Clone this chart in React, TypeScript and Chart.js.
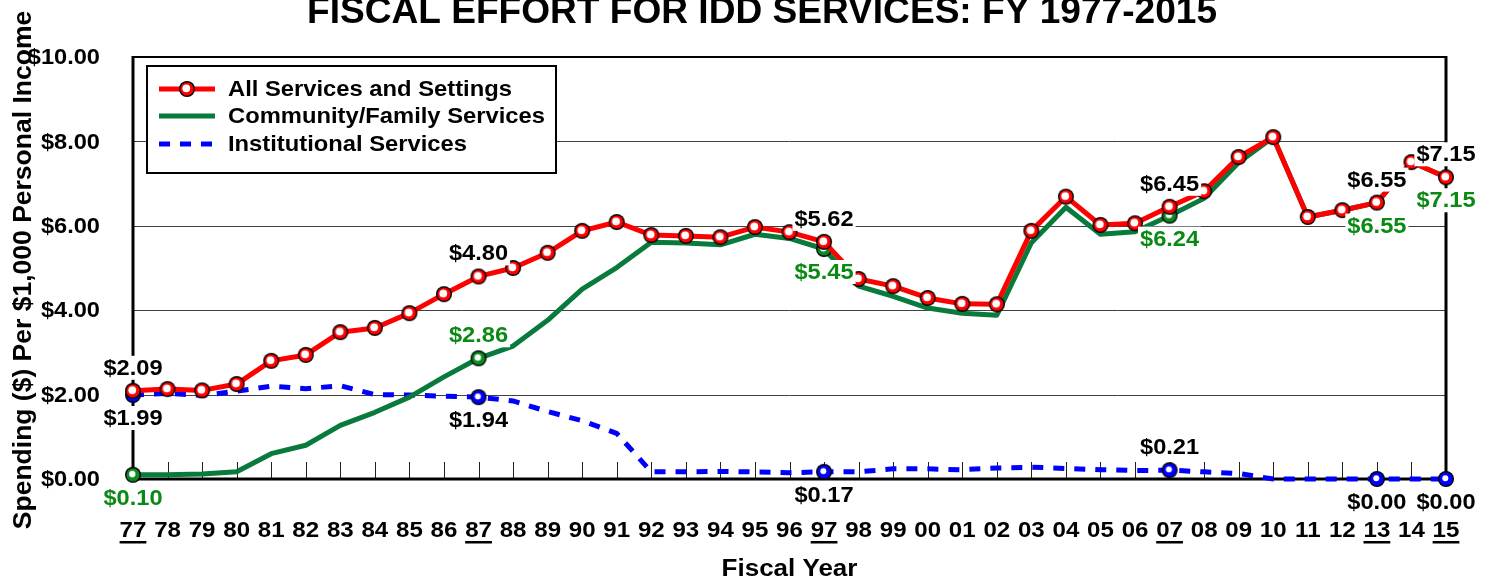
import React, { useEffect, useRef } from "react";
import { Chart, registerables } from "chart.js";

Chart.register(...registerables);

const years = [
  "77", "78", "79", "80", "81", "82", "83", "84", "85", "86",
  "87", "88", "89", "90", "91", "92", "93", "94", "95", "96",
  "97", "98", "99", "00", "01", "02", "03", "04", "05", "06",
  "07", "08", "09", "10", "11", "12", "13", "14", "15",
];

const allServices = [
  2.09, 2.13, 2.10, 2.25, 2.80, 2.94, 3.48, 3.58, 3.93, 4.38,
  4.80, 5.00, 5.36, 5.88, 6.09, 5.78, 5.76, 5.73, 5.97, 5.85,
  5.62, 4.74, 4.57, 4.29, 4.15, 4.14, 5.88, 6.69, 6.02, 6.06,
  6.45, 6.82, 7.63, 8.10, 6.21, 6.37, 6.55, 7.51, 7.15,
];

const community = [
  0.10, 0.10, 0.12, 0.17, 0.60, 0.80, 1.27, 1.58, 1.94, 2.42,
  2.86, 3.15, 3.76, 4.50, 5.01, 5.61, 5.59, 5.55, 5.80, 5.70,
  5.45, 4.57, 4.33, 4.05, 3.93, 3.88, 5.60, 6.44, 5.80, 5.86,
  6.24, 6.65, 7.50, 8.10, 6.21, 6.37, 6.55, 7.51, 7.15,
];

const institutional = [
  1.99, 2.03, 1.98, 2.08, 2.20, 2.14, 2.21, 2.00, 1.99, 1.96,
  1.94, 1.85, 1.60, 1.38, 1.08, 0.17, 0.17, 0.18, 0.17, 0.15,
  0.17, 0.17, 0.24, 0.24, 0.22, 0.26, 0.28, 0.25, 0.22, 0.20,
  0.21, 0.17, 0.13, 0.00, 0.00, 0.00, 0.00, 0.00, 0.00,
];

const yTickValues = [0, 2, 4, 6, 8, 10];
const underlinedYears = ["77", "87", "97", "07", "13", "15"];

const redLabelYears = ["77", "87", "97", "07", "13", "15"];
const greenLabelYears = ["77", "87", "97", "07", "13", "15"];
const blueLabelYears = ["77", "87", "97", "07", "13", "15"];
const greenMarkerYears = ["77", "87", "97", "07"];
const blueMarkerYears = ["77", "87", "97", "07", "13", "15"];

const TITLE = "FISCAL EFFORT FOR IDD SERVICES: FY 1977-2015";
const Y_TITLE = "Spending ($) Per $1,000 Personal Income";
const X_TITLE = "Fiscal Year";
const SERIES_NAMES = ["All Services and Settings", "Community/Family Services", "Institutional Services"];

const RED = "#ff0000";
const GREEN_LINE = "#087a3c";
const GREEN_TEXT = "#0a8a14";
const BLUE = "#0000ff";
const FONT = '"Liberation Sans", Arial, Helvetica, sans-serif';

function makePoint(fill: string, highlight: string, hr: number) {
  const c = document.createElement("canvas");
  c.width = 18;
  c.height = 18;
  const g = c.getContext("2d")!;
  g.beginPath();
  g.arc(9, 9, 8.0, 0, Math.PI * 2);
  g.fillStyle = "#000";
  g.fill();
  g.beginPath();
  g.arc(9, 9, 6.6, 0, Math.PI * 2);
  g.fillStyle = fill;
  g.fill();
  g.beginPath();
  g.arc(8.3, 8.3, hr, 0, Math.PI * 2);
  g.fillStyle = highlight;
  g.fill();
  return c;
}

export default function App() {
  const ref = useRef<HTMLCanvasElement | null>(null);

  useEffect(() => {
    document.body.style.margin = "0";
    const canvas = ref.current!;
    const redPt = makePoint(RED, "#ffffff", 3.9);
    const greenPt = makePoint("#0b8a22", "#ffffff", 3.2);
    const bluePt = makePoint(BLUE, "#ffffff", 3.0);

    const fmt = (v: number) => "$" + v.toFixed(2);

    const text = (
      ctx: CanvasRenderingContext2D,
      t: string,
      x: number,
      y: number,
      size: number,
      sx: number,
      align: CanvasTextAlign,
      color: string
    ) => {
      ctx.save();
      ctx.translate(x, y);
      ctx.scale(sx, 1);
      ctx.font = "bold " + size + "px " + FONT;
      ctx.textAlign = align;
      ctx.textBaseline = "middle";
      ctx.fillStyle = color;
      ctx.fillText(t, 0, 0);
      ctx.restore();
    };

    const decor = {
      id: "decor",
      beforeDatasetsDraw(chart: any) {
        const ctx = chart.ctx;
        const { left, right, top, bottom } = chart.chartArea;
        const ys = chart.scales.y;
        const xs = chart.scales.x;
        ctx.save();
        ctx.strokeStyle = "#404040";
        ctx.lineWidth = 1;
        yTickValues.forEach((v) => {
          if (v === 0 || v === 10) return;
          const py = Math.round(ys.getPixelForValue(v)) + 0.5;
          ctx.beginPath();
          ctx.moveTo(left, py);
          ctx.lineTo(right, py);
          ctx.stroke();
        });
        ctx.strokeStyle = "#222";
        years.forEach((_, i) => {
          const px = Math.round(xs.getPixelForValue(i)) + 0.5;
          ctx.beginPath();
          ctx.moveTo(px, bottom);
          ctx.lineTo(px, bottom - 17);
          ctx.stroke();
        });
        ctx.strokeStyle = "#000";
        ctx.lineWidth = 2;
        ctx.beginPath();
        ctx.moveTo(left, top);
        ctx.lineTo(right, top);
        ctx.stroke();
        ctx.lineWidth = 3;
        ctx.beginPath();
        ctx.moveTo(left, top - 1);
        ctx.lineTo(left, bottom);
        ctx.lineTo(right, bottom);
        ctx.moveTo(right, top - 1);
        ctx.lineTo(right, bottom);
        ctx.stroke();
        ctx.restore();
      },
      afterDatasetsDraw(chart: any) {
        const ctx = chart.ctx as CanvasRenderingContext2D;
        const { left, right } = chart.chartArea;
        const ys = chart.scales.y;
        const xs = chart.scales.x;
        ctx.save();

        // data labels with white backing
        const LS = 21.5, LSX = 1.1;
        const drawLabel = (t: string, cx: number, cy: number, color: string) => {
          ctx.font = "bold " + LS + "px " + FONT;
          const w = ctx.measureText(t).width * LSX;
          ctx.fillStyle = "#fff";
          ctx.fillRect(cx - w / 2 - 2, cy - 12, w + 4, 24);
          text(ctx, t, cx, cy + 1, LS, LSX, "center", color);
        };
        const labelSet = (arr: number[], list: string[], color: string, dirFor: (y: string) => number) => {
          list.forEach((yr) => {
            const i = years.indexOf(yr);
            const px = xs.getPixelForValue(i);
            const py = ys.getPixelForValue(arr[i]);
            drawLabel(fmt(arr[i]), px, py + dirFor(yr) * 23, color);
          });
        };
        labelSet(allServices, redLabelYears, "#000", () => -1);
        labelSet(community, greenLabelYears, GREEN_TEXT, (yr) => (yr === "87" ? -1 : 1));
        labelSet(institutional, blueLabelYears, "#000", (yr) => (yr === "07" ? -1 : 1));

        // legend
        const lx = 147, ly = 66, lw = 409, lh = 107;
        ctx.fillStyle = "#fff";
        ctx.fillRect(lx, ly, lw, lh);
        ctx.strokeStyle = "#000";
        ctx.lineWidth = 2;
        ctx.strokeRect(lx, ly, lw, lh);
        const rows = [89, 116, 144];
        ctx.lineCap = "butt";
        ctx.lineWidth = 5;
        ctx.strokeStyle = RED;
        ctx.beginPath();
        ctx.moveTo(159, rows[0]);
        ctx.lineTo(215, rows[0]);
        ctx.stroke();
        ctx.drawImage(redPt, 187 - redPt.width / 2, rows[0] - redPt.height / 2);
        ctx.strokeStyle = GREEN_LINE;
        ctx.beginPath();
        ctx.moveTo(159, rows[1]);
        ctx.lineTo(215, rows[1]);
        ctx.stroke();
        ctx.strokeStyle = BLUE;
        ctx.setLineDash([11, 10]);
        ctx.beginPath();
        ctx.moveTo(159, rows[2]);
        ctx.lineTo(215, rows[2]);
        ctx.stroke();
        ctx.setLineDash([]);
        SERIES_NAMES.forEach((n, k) => text(ctx, n, 228, rows[k] + 1, 22, 1.08, "left", "#000"));

        // y tick labels
        yTickValues.forEach((v) => {
          text(ctx, fmt(v), 100, ys.getPixelForValue(v) + 1, 22.5, 1.05, "right", "#000");
        });

        // x tick labels
        ctx.fillStyle = "#000";
        years.forEach((yr, i) => {
          const px = xs.getPixelForValue(i);
          text(ctx, yr, px, 531, 22.5, 1.07, "center", "#000");
          if (underlinedYears.includes(yr)) {
            ctx.font = "bold 22.5px " + FONT;
            const w = ctx.measureText(yr).width * 1.07;
            ctx.fillStyle = "#000";
            ctx.fillRect(px - w / 2, 541, w, 2.5);
          }
        });

        // axis titles
        text(ctx, X_TITLE, (left + right) / 2, 570, 23, 1.13, "center", "#000");

        ctx.save();
        ctx.translate(31, 270);
        ctx.rotate(-Math.PI / 2);
        ctx.font = "bold 26.5px " + FONT;
        ctx.textAlign = "center";
        ctx.textBaseline = "alphabetic";
        ctx.fillStyle = "#000";
        ctx.fillText(Y_TITLE, 0, 0);
        ctx.restore();

        // title
        ctx.save();
        ctx.translate(762, 23);
        ctx.font = "bold 36px " + FONT;
        ctx.scale(1.03, 1);
        ctx.textAlign = "center";
        ctx.textBaseline = "alphabetic";
        ctx.fillStyle = "#000";
        ctx.fillText(TITLE, 0, 0);
        ctx.restore();

        ctx.restore();
      },
    };

    const markerRadius = (list: string[]) => (c: any) => (list.includes(years[c.dataIndex]) ? 8 : 0);

    const chart = new Chart(canvas, {
      type: "line",
      data: {
        labels: years,
        datasets: [
          {
            label: SERIES_NAMES[0],
            data: allServices,
            borderColor: RED,
            borderWidth: 5,
            pointStyle: redPt as any,
            pointRadius: 8,
            borderJoinStyle: "round",
            clip: false as any,
          },
          {
            label: SERIES_NAMES[1],
            data: community,
            borderColor: GREEN_LINE,
            borderWidth: 5,
            pointStyle: greenPt as any,
            pointRadius: markerRadius(greenMarkerYears) as any,
            borderJoinStyle: "round",
            clip: false as any,
          },
          {
            label: SERIES_NAMES[2],
            data: institutional,
            borderColor: BLUE,
            borderWidth: 5,
            borderDash: [11, 10],
            pointStyle: bluePt as any,
            pointRadius: markerRadius(blueMarkerYears) as any,
            clip: false as any,
          },
        ],
      },
      options: {
        responsive: false,
        animation: false,
        devicePixelRatio: 1,
        layout: { padding: { left: 133, right: 46, top: 57, bottom: 104 } },
        scales: {
          x: { type: "category", display: false, offset: false },
          y: { type: "linear", display: false, min: 0, max: 10 },
        },
        plugins: {
          legend: { display: false },
          title: { display: false },
          tooltip: { enabled: false },
        },
        elements: { line: { tension: 0 } },
      },
      plugins: [decor],
    });

    return () => chart.destroy();
  }, []);

  return <canvas ref={ref} width={1492} height={583} style={{ display: "block" }} />;
}
